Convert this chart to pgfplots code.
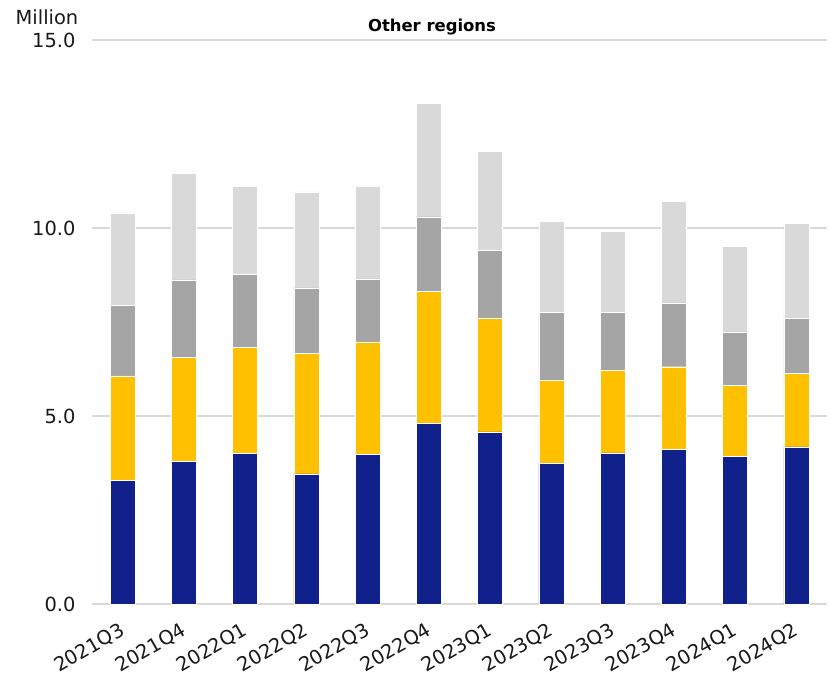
\documentclass[border=0pt]{standalone}
\usepackage{pgfplots}
\pgfplotsset{compat=1.18}
\usepackage{pgfplotstable}
\usepackage{fontspec}
\setmainfont{DejaVu Sans}
\definecolor{cnavy}{HTML}{10218B}
\definecolor{cyellow}{HTML}{FFC000}
\definecolor{cgray}{HTML}{A5A5A5}
\definecolor{clight}{HTML}{D9D9D9}
\definecolor{cgrid}{HTML}{D9D9D9}
\pgfplotstableread{
x a b c d
0 3.28 2.79 1.88 2.45
1 3.80 2.76 2.06 2.84
2 4.01 2.81 1.95 2.33
3 3.46 3.21 1.74 2.55
4 3.98 2.99 1.68 2.47
5 4.81 3.51 1.98 3.02
6 4.58 3.03 1.79 2.63
7 3.75 2.19 1.81 2.42
8 4.02 2.20 1.54 2.16
9 4.11 2.20 1.70 2.70
10 3.92 1.90 1.42 2.28
11 4.18 1.95 1.46 2.53
}\datatable
\begin{document}
\begin{tikzpicture}
\begin{axis}[
  scale only axis, width=735bp, height=564bp,
  ybar stacked, bar width=25bp,
  xmin=-0.5, xmax=11.5, ymin=0, ymax=15,
  xtick={0,...,11},
  xticklabels={2021Q3,2021Q4,2022Q1,2022Q2,2022Q3,2022Q4,2023Q1,2023Q2,2023Q3,2023Q4,2024Q1,2024Q2},
  ytick={0,5,10,15},
  /pgf/number format/fixed,
  /pgf/number format/fixed zerofill,
  /pgf/number format/precision=1,
  /pgf/number format/assume math mode=true,
  axis line style={draw=none},
  major tick length=0pt,
  ymajorgrids, grid style={color=cgrid, line width=1.5bp},
  tick label style={font=\fontsize{19.5}{21}\selectfont, text=black!90},
  yticklabel style={anchor=east, xshift=-13bp},
  xticklabel style={rotate=30, anchor=north east, yshift=-12bp, xshift=-11bp, inner sep=1bp},
  clip=false,
]
\addplot[fill=cnavy, draw=white, line width=0.4bp] table[x=x, y=a] {\datatable};
\addplot[fill=cyellow, draw=white, line width=0.4bp] table[x=x, y=b] {\datatable};
\addplot[fill=cgray, draw=white, line width=0.4bp] table[x=x, y=c] {\datatable};
\addplot[fill=clight, draw=white, line width=0.4bp] table[x=x, y=d] {\datatable};
\end{axis}
\node[font=\fontsize{19.5}{21}\selectfont, text=black!90] at ([xshift=-45bp, yshift=23bp]current axis.north west) {Million};
\node[font=\bfseries\fontsize{16.5}{20}\selectfont] at ([xshift=340bp, yshift=13bp]current axis.north west) {Other regions};
\path ([xshift=-92bp, yshift=-69bp]current axis.south west) rectangle ++(831bp,673bp);
\end{tikzpicture}
\end{document}
